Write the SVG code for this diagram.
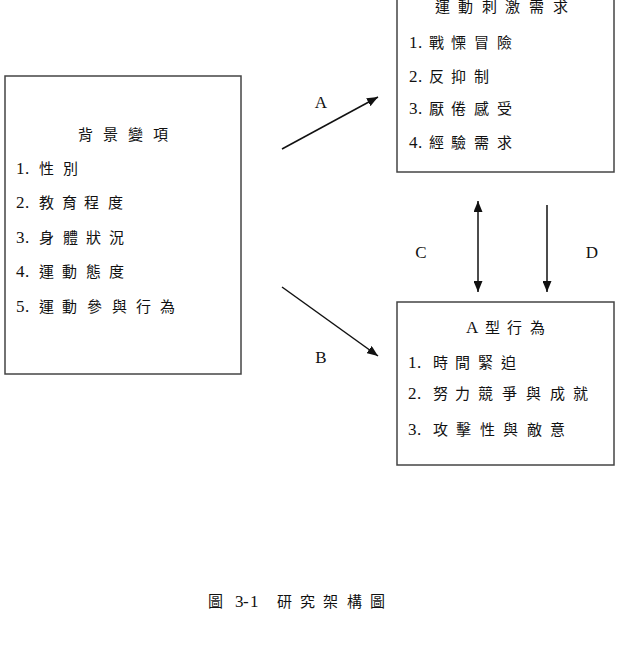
<svg xmlns="http://www.w3.org/2000/svg" width="624" height="656" viewBox="0 0 624 656">
<defs>
<style>
.box{fill:#fff;stroke:#444;stroke-width:1.5}
.t{font-family:"Liberation Serif","Noto Sans CJK TC",serif;font-size:15px;fill:#111}
.d{font-size:17px}
.lbl{font-family:"Liberation Serif",serif;font-size:17px;fill:#111;text-anchor:middle}
.ln{stroke:#111;stroke-width:1.5;fill:none}
</style>
<marker id="ah" viewBox="0 0 10 10" refX="10" refY="5" markerWidth="11" markerHeight="9" orient="auto-start-reverse" markerUnits="userSpaceOnUse" preserveAspectRatio="none">
<path d="M0,0 L10,5 L0,10 z" fill="#111"/>
</marker>
</defs>
<rect width="624" height="656" fill="#fff"/>
<g id="background">
<rect class="box" x="5" y="76" width="236" height="298"/>
<text class="t" x="78 103 128 153" y="140">背景變項</text>
<text class="t" x="16 25 39 63" y="174"><tspan class="d">1.</tspan>性別</text>
<text class="t" x="16 25 39 62 84 108" y="208"><tspan class="d">2.</tspan>教育程度</text>
<text class="t" x="16 25 39 63 86 109" y="243"><tspan class="d">3.</tspan>身體狀況</text>
<text class="t" x="16 25 39 62 86 109" y="277"><tspan class="d">4.</tspan>運動態度</text>
<text class="t" x="16 25 39 62 87 112 136 160" y="312"><tspan class="d">5.</tspan>運動參與行為</text>
</g>
<g id="stimulus">
<rect class="box" x="397" y="-10" width="217" height="182"/>
<text class="t" x="435 458 482 505 529 553" y="12">運動刺激需求</text>
<text class="t" x="409 418 429 451 474 497" y="48"><tspan class="d">1.</tspan>戰慄冒險</text>
<text class="t" x="409 418 429 451 474" y="82"><tspan class="d">2.</tspan>反抑制</text>
<text class="t" x="409 418 429 451 474 497" y="114"><tspan class="d">3.</tspan>厭倦感受</text>
<text class="t" x="409 418 429 451 474 497" y="148"><tspan class="d">4.</tspan>經驗需求</text>
</g>
<g id="typeA">
<rect class="box" x="397" y="302" width="217" height="163"/>
<text class="t" x="466 485 507 530" y="333"><tspan class="d">A</tspan>型行為</text>
<text class="t" x="408 417 433 455 478 501" y="368"><tspan class="d">1.</tspan>時間緊迫</text>
<text class="t" x="408 417 433 455 478 502 526 550 573" y="399"><tspan class="d">2.</tspan>努力競爭與成就</text>
<text class="t" x="408 417 433 456 480 503 527 550" y="435"><tspan class="d">3.</tspan>攻擊性與敵意</text>
</g>
<g id="connectors">
<line class="ln" x1="282" y1="149" x2="378" y2="97" marker-end="url(#ah)"/>
<line class="ln" x1="282" y1="287" x2="378" y2="356" marker-end="url(#ah)"/>
<line class="ln" x1="478" y1="201" x2="478" y2="292" marker-start="url(#ah)" marker-end="url(#ah)"/>
<line class="ln" x1="547" y1="205" x2="547" y2="292" marker-end="url(#ah)"/>
<text class="lbl" x="321" y="108">A</text>
<text class="lbl" x="321" y="363">B</text>
<text class="lbl" x="421" y="258">C</text>
<text class="lbl" x="592" y="258">D</text>
</g>
<text class="t" x="208 224 235 243 250 277 300 323 347 370" y="607">圖 <tspan class="d">3-1</tspan>研究架構圖</text>
</svg>
